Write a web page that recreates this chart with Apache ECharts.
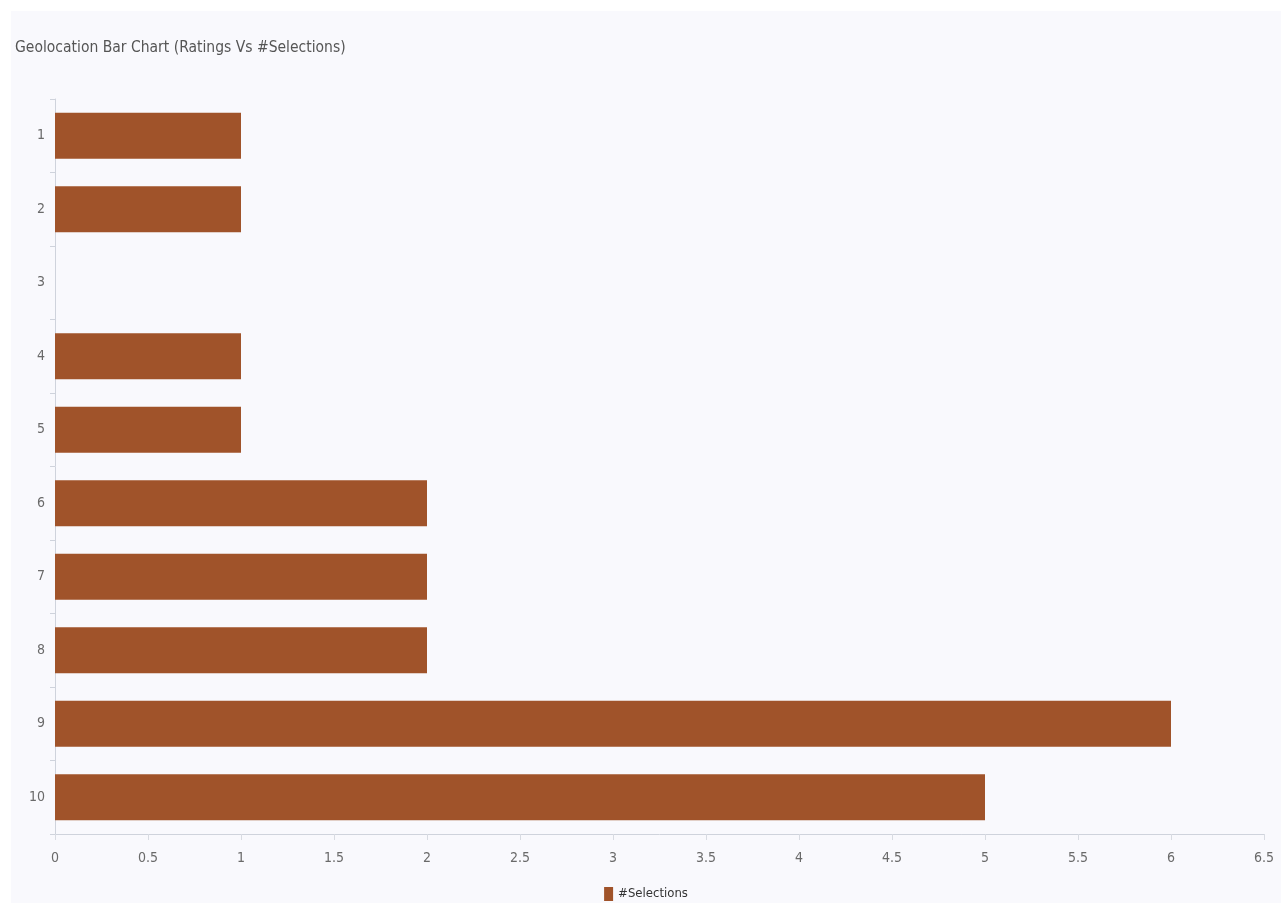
<!DOCTYPE html>
<html>
<head>
<meta charset="utf-8">
<script src="https://cdn.jsdelivr.net/npm/echarts@6/dist/echarts.min.js"></script>
<style>
  html, body { margin: 0; padding: 0; background: #ffffff; width: 1281px; height: 903px; overflow: hidden; }
  #chart { position: absolute; left: 11px; top: 11px; width: 1270px; height: 892px; background: #f9f9fd; }
</style>
</head>
<body>
<div id="chart"></div>
<script>
// Ratings (category axis) and number of selections per rating
const ratings = ['1', '2', '3', '4', '5', '6', '7', '8', '9', '10'];
const selections = [1, 1, 0, 1, 1, 2, 2, 2, 6, 5];
const seriesName = '#Selections';
const titleText = 'Geolocation Bar Chart (Ratings Vs #Selections)';

const FONT = '"Liberation Sans Narrow", "DejaVu Sans Condensed", "Roboto Condensed", Roboto, sans-serif';
const chart = echarts.init(document.getElementById('chart'));

chart.setOption({
  backgroundColor: '#f9f9fd',
  textStyle: { fontFamily: FONT },
  title: {
    text: titleText,
    left: -1,
    top: 24,
    textStyle: { fontFamily: FONT, fontSize: 15.5, fontWeight: 'normal', color: '#555555' }
  },
  legend: {
    data: [seriesName],
    bottom: -3,
    left: 'center',
    icon: 'rect',
    itemWidth: 9,
    itemHeight: 14,
    itemGap: 4,
    textStyle: { fontFamily: FONT, fontSize: 13, color: '#333333' }
  },
  grid: { left: 44, right: 17, top: 88, bottom: 69, containLabel: false },
  xAxis: {
    type: 'value',
    min: 0,
    max: 6.5,
    interval: 0.5,
    splitLine: { show: false },
    axisLine: { show: true, lineStyle: { color: '#cfd3dc', width: 1 } },
    axisTick: { show: true, length: 6, lineStyle: { color: '#d8dbe2' } },
    axisLabel: { color: '#6a6a6a', fontSize: 14, margin: 17, fontFamily: FONT }
  },
  yAxis: {
    type: 'category',
    data: ratings,
    inverse: true,
    axisLine: { show: true, lineStyle: { color: '#cfd3dc', width: 1 } },
    axisTick: { show: true, length: 5, lineStyle: { color: '#cfd3dc' } },
    axisLabel: { color: '#6a6a6a', fontSize: 14, margin: 10, fontFamily: FONT },
    splitLine: { show: false }
  },
  series: [{
    name: seriesName,
    type: 'bar',
    data: selections,
    barWidth: 46,
    itemStyle: { color: '#a0532a' }
  }]
});
</script>
</body>
</html>
